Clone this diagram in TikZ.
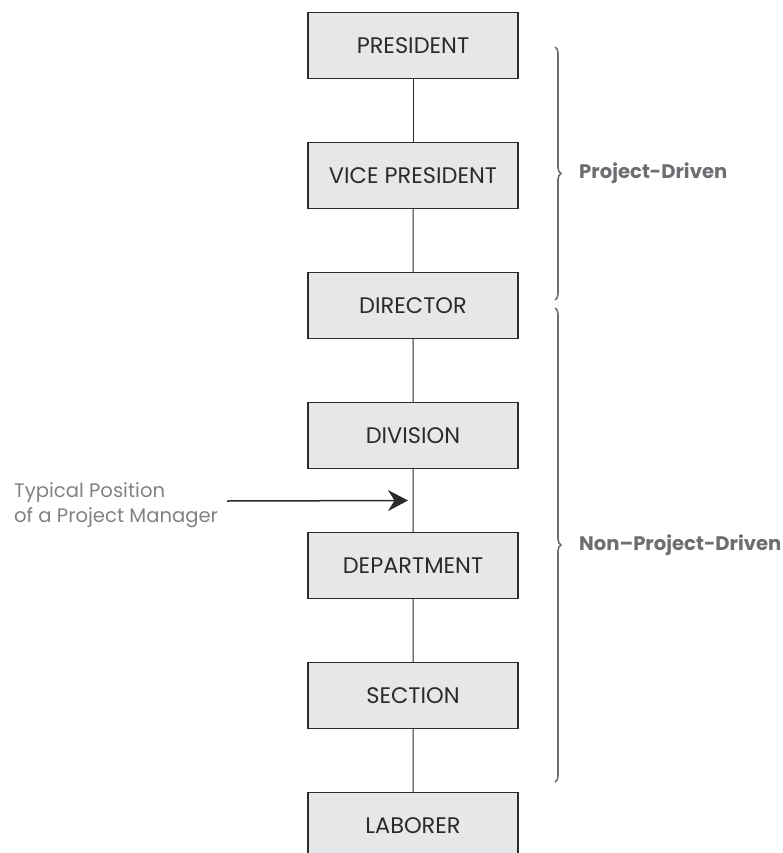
\documentclass[tikz,border=0pt]{standalone}
\usepackage{fontspec}
\setmainfont{Poppins}
\usetikzlibrary{arrows.meta,calc,decorations.pathreplacing}
\definecolor{boxfill}{HTML}{E6E7E8}
\definecolor{boxline}{HTML}{2B2B2B}
\definecolor{bracegray}{HTML}{6D6E71}
\definecolor{notegray}{HTML}{808285}

\begin{document}
\begin{tikzpicture}[level distance=130pt,
		every child node/.style={rank},
		edge from parent/.style={draw=boxline, line width=1pt}]
	\tikzstyle{rank}=[rectangle, draw=boxline, line width=1.2pt, fill=boxfill,
		minimum width=210pt, minimum height=65.6pt, inner sep=0pt,
		text=boxline, font=\fontsize{22.5}{26}\selectfont]
	\tikzstyle{note}=[inner sep=0pt, align=left, text=notegray,
		font=\fontsize{19.6}{25}\selectfont]
	\tikzstyle{group}=[draw=bracegray, line width=1.6pt,
		decorate, decoration={brace, amplitude=6pt}]
	\tikzstyle{grouplabel}=[inner sep=0pt, anchor=west, text=bracegray,
		font=\fontsize{19.6}{23}\selectfont\bfseries]
	\useasboundingbox (0,0) rectangle (783pt,-853pt);
	% chain of ranks
	\node[rank] (Pres) at (413pt,-45.5pt) {PRESIDENT}
		child { node (VP) {VICE PRESIDENT}
			child { node (Dir) {DIRECTOR}
				child { node (Div) {DIVISION}
					child { node (Dep) {DEPARTMENT}
						child { node (Sec) {SECTION}
							child { node (Lab) {LABORER}}
						}
					}
				}
			}
		};
	% project manager
	\node[note, anchor=west] (tpm) at (14pt,-505pt) {Typical Position\\of a Project Manager};
	\coordinate (tpmTail) at (227pt,-501pt);
	\coordinate (tpmHead) at ($(Div.south)!0.5!(Dep.north)+(-5pt,0)$);
	\draw[-{Stealth[length=20pt,width=21pt]}, line width=1.5pt, boxline] (tpmTail) -- (tpmHead);
	% braces
	\coordinate (pdTop) at (555pt,-47pt);
	\coordinate (pdBot) at (555pt,-300pt);
	\coordinate (npdTop) at (555pt,-308pt);
	\coordinate (npdBot) at (555pt,-782pt);
	\draw[group] (pdTop) -- (pdBot);
	\draw[group] (npdTop) -- (npdBot);
	\node[grouplabel] (pd) at ($(pdTop)!0.5!(pdBot)+(24pt,0)$) {Project-Driven};
	\node[grouplabel] (npd) at ($(npdTop)!0.5!(npdBot)+(24pt,0)$) {Non–Project-Driven};
\end{tikzpicture}
\end{document}
